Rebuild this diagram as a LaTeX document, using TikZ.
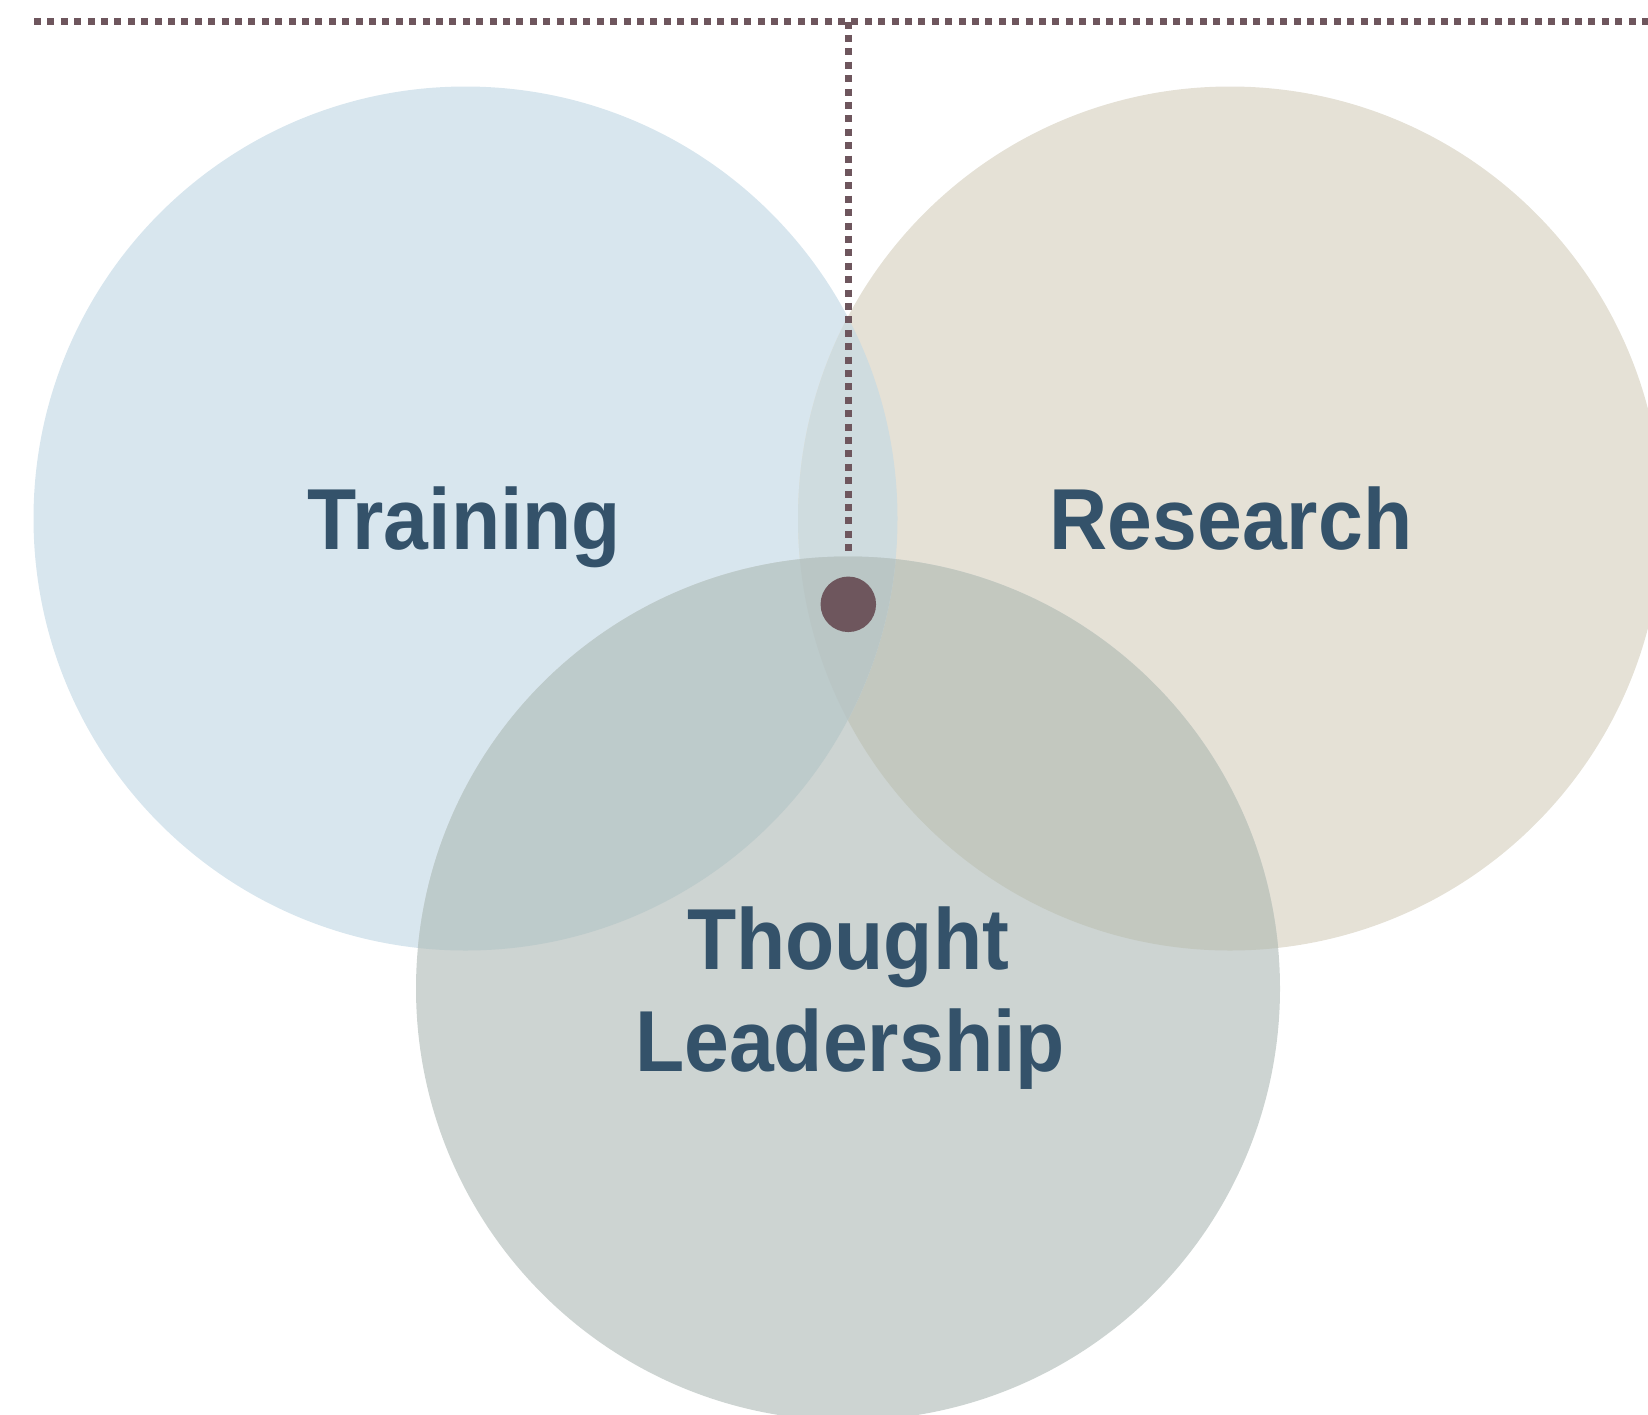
\documentclass[tikz,border=0pt]{standalone}
\usepackage{fontspec}
\setmainfont[FakeStretch=0.93]{Liberation Sans}
\definecolor{trainfill}{HTML}{D8E6EE}
\definecolor{resfill}{HTML}{E5E1D6}
\definecolor{thfill}{HTML}{CDD4D2}
\definecolor{trres}{HTML}{CFDCDF}
\definecolor{trth}{HTML}{BDCBCB}
\definecolor{resth}{HTML}{C3C8BF}
\definecolor{allthree}{HTML}{BAC6C5}
\definecolor{labelc}{HTML}{34526A}
\definecolor{dotc}{HTML}{6E565D}
\tikzset{
  lbl/.style={font=\bfseries\fontsize{86.6}{102}\selectfont, text=labelc, inner sep=0pt, anchor=base},
  guide/.style={draw=dotc, line width=7pt, dash pattern=on 7pt off 6.4pt},
  hub/.style={circle, fill=dotc, minimum size=55.5pt, inner sep=0pt}
}
\begin{document}
\begin{tikzpicture}[x=1pt,y=-1pt]
\useasboundingbox (0,0) rectangle (1648,1414);
\clip (0,0) rectangle (1648,1414);
\def\R{432}
\coordinate (ct) at (465.5,518.5);
\coordinate (cr) at (1230,518.5);
\coordinate (ch) at (848,988.5);
% base circles
\fill[trainfill] (ct) circle (\R);
\fill[resfill] (cr) circle (\R);
\fill[thfill] (ch) circle (\R);
% overlaps
\begin{scope}
  \clip (cr) circle (\R);
  \fill[resth] (ch) circle (\R);
\end{scope}
\begin{scope}
  \clip (ct) circle (\R);
  \fill[trres] (cr) circle (\R);
  \fill[trth] (ch) circle (\R);
  \clip (cr) circle (\R);
  \fill[allthree] (ch) circle (\R);
\end{scope}
% labels
\node[lbl] (training) at (464.5,549) {Training};
\node[lbl] (research) at (1231,549) {Research};
\node[lbl] (thought) at (848,969) {Thought};
\node[lbl] (leader) at (850,1071) {Leadership};
% dotted guides
\coordinate (hstart) at (34,21.5);
\coordinate (hend) at (1650,21.5);
\coordinate (junction) at (848.3,21.5);
\coordinate (vend) at (848.3,553);
\draw[guide] (hstart) -- (hend);
\draw[guide] (junction) -- (vend);
\node[hub] (hubdot) at (848.3,604.3) {};
\end{tikzpicture}
\end{document}
